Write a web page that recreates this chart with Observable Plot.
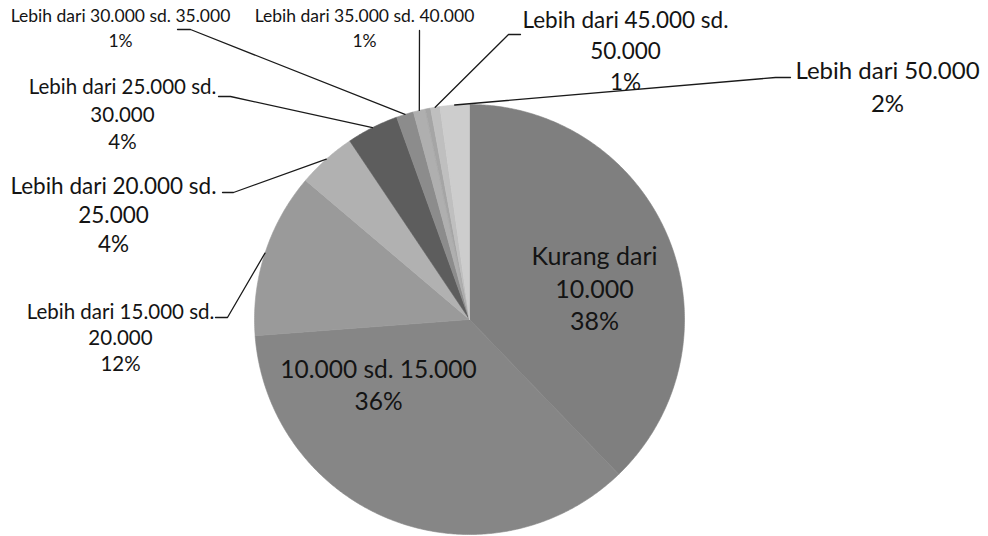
<!DOCTYPE html>
<html>
<head>
<meta charset="utf-8">
<script src="https://cdn.jsdelivr.net/npm/d3@7"></script>
<script src="https://cdn.jsdelivr.net/npm/@observablehq/plot@0.6"></script>
<style>
  html, body { margin: 0; padding: 0; background: #ffffff; }
  #chart svg { display: block; }
</style>
</head>
<body>
<div id="chart"></div>
<script>
// ---- data ----
const categories = [
  "Kurang dari 10.000",
  "10.000 sd. 15.000",
  "Lebih dari 15.000 sd. 20.000",
  "Lebih dari 20.000 sd. 25.000",
  "Lebih dari 25.000 sd. 30.000",
  "Lebih dari 30.000 sd. 35.000",
  "Lebih dari 35.000 sd. 40.000",
  "Lebih dari 40.000 sd. 45.000",
  "Lebih dari 45.000 sd. 50.000",
  "Lebih dari 50.000"
];
const values = [37.8, 36.0, 12.4, 4.4, 3.9, 1.3, 0.9, 0.4, 0.7, 2.2];
const labelTexts = [
  "Kurang dari\n10.000",
  "10.000 sd. 15.000",
  "Lebih dari 15.000 sd.\n20.000",
  "Lebih dari 20.000 sd.\n25.000",
  "Lebih dari 25.000 sd.\n30.000",
  "Lebih dari 30.000 sd. 35.000",
  "Lebih dari 35.000 sd. 40.000",
  null,
  "Lebih dari 45.000 sd.\n50.000",
  "Lebih dari 50.000"
];
const colors = ["#7f7f7f", "#868686", "#9a9a9a", "#b1b1b1", "#5d5d5d", "#8c8c8c", "#afafaf", "#a5a5a5", "#bfbfbf", "#cdcdcd"];

// ---- layout (in pie-radius units, centre = 0,0) ----
const layout = [
  {x: 0.5814, y: 0.1349, size: 25, lh: 1.3, leader: null},
  {x: -0.4233, y: -0.3116, size: 24.5, lh: 1.31, leader: null},
  {x: -1.6233, y: -0.0930, size: 20.5, lh: 1.27, leader: [[-1.1256, 0.0093], [-1.1814, 0.0093]]},
  {x: -1.6558, y: 0.4791, size: 22.5, lh: 1.29, leader: [[-1.0977, 0.5907], [-1.1488, 0.5907]]},
  {x: -1.6140, y: 0.9488, size: 20.5, lh: 1.34, leader: [[-1.1116, 1.0372], [-1.1674, 1.0372]]},
  {x: -1.6233, y: 1.3512, size: 17.5, lh: 1.43, leader: [[-1.2977, 1.3488], [-1.3581, 1.3488]]},
  {x: -0.4884, y: 1.3512, size: 17.5, lh: 1.43, leader: [[-0.2326, 1.3442]]},
  null,
  {x: 0.7256, y: 1.2465, size: 22.5, lh: 1.38, leader: [[0.1814, 1.3256], [0.2372, 1.3256]]},
  {x: 1.9442, y: 1.0791, size: 24, lh: 1.375, leader: [[1.4233, 1.1256], [1.4930, 1.1256]]}
];

const W = 988, H = 536, R = 215, CX = 469, CY = 319;

const arcs = d3.pie().sort(null).value(d => d)(values);

// slice outlines
const slicePts = [];
arcs.forEach((a, i) => {
  const cat = categories[i];
  slicePts.push({cat, x: 0, y: 0});
  const n = Math.max(2, Math.ceil((a.endAngle - a.startAngle) / (Math.PI / 360)) + 1);
  for (let k = 0; k <= n; k++) {
    const t = a.startAngle + (a.endAngle - a.startAngle) * k / n;
    slicePts.push({cat, x: Math.sin(t), y: Math.cos(t)});
  }
  slicePts.push({cat, x: 0, y: 0});
});

// leader lines
const leaderPts = [];
arcs.forEach((a, i) => {
  const L = layout[i];
  if (!L || !L.leader) return;
  const m = (a.startAngle + a.endAngle) / 2;
  leaderPts.push({cat: categories[i], x: Math.sin(m), y: Math.cos(m)});
  L.leader.forEach(p => leaderPts.push({cat: categories[i], x: p[0], y: p[1]}));
});

const textMarks = [];
arcs.forEach((a, i) => {
  const L = layout[i];
  if (!L || !labelTexts[i]) return;
  const txt = labelTexts[i] + "\n" + Math.round(values[i]) + "%";
  textMarks.push(Plot.text([{x: L.x, y: L.y, t: txt}], {
    x: "x", y: "y", text: "t",
    fontSize: L.size, lineHeight: L.lh,
    dy: -L.size * 0.12,
    textAnchor: "middle", lineAnchor: "middle",
    fill: "#141414"
  }));
});

const chart = Plot.plot({
  width: W, height: H,
  margin: 0,
  style: {fontFamily: "Lato, 'Open Sans', sans-serif", background: "#ffffff"},
  x: {domain: [-CX / R, (W - CX) / R], axis: null},
  y: {domain: [-(H - CY) / R, CY / R], axis: null},
  color: {domain: categories, range: colors},
  marks: [
    Plot.line(slicePts, {x: "x", y: "y", z: "cat", fill: "cat", stroke: "cat", strokeWidth: 0.6, curve: "linear-closed"}),
    Plot.line(leaderPts, {x: "x", y: "y", z: "cat", stroke: "#1a1a1a", strokeWidth: 1.3}),
    ...textMarks
  ]
});
document.getElementById("chart").appendChild(chart);
</script>
</body>
</html>
